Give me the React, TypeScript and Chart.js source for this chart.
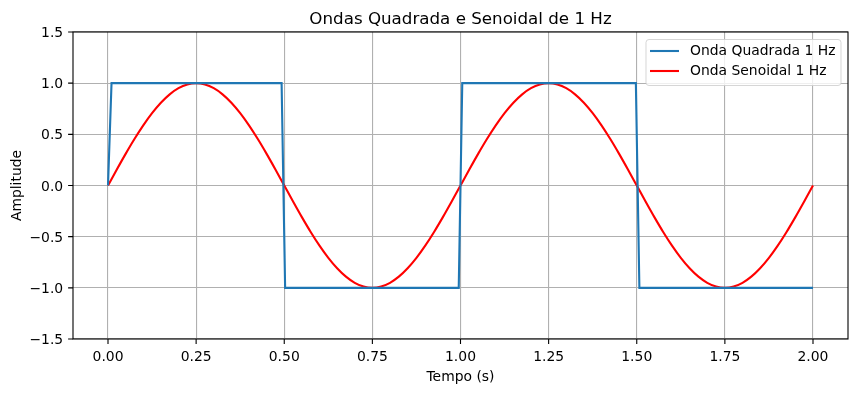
import React, { useEffect, useRef } from "react";
import { Chart, registerables } from "chart.js";

Chart.register(...registerables);

const TITLE = "Ondas Quadrada e Senoidal de 1 Hz";
const X_LABEL = "Tempo (s)";
const Y_LABEL = "Amplitude";
const SQUARE_LABEL = "Onda Quadrada 1 Hz";
const SINE_LABEL = "Onda Senoidal 1 Hz";

const xTicks = [0, 0.25, 0.5, 0.75, 1.0, 1.25, 1.5, 1.75, 2.0];
const yTicks = [-1.5, -1.0, -0.5, 0.0, 0.5, 1.0, 1.5];

const squareTime = [0, 0.01, 0.4925, 0.5025, 0.995, 1.005, 1.4975, 1.5075, 2.0];
const squareValue = [0, 1, 1, -1, -1, 1, 1, -1, -1];

const sineTime = [
  0, 0.025, 0.05, 0.075, 0.1, 0.125, 0.15, 0.175, 0.2, 0.225,
  0.25, 0.275, 0.3, 0.325, 0.35, 0.375, 0.4, 0.425, 0.45, 0.475,
  0.5, 0.525, 0.55, 0.575, 0.6, 0.625, 0.65, 0.675, 0.7, 0.725,
  0.75, 0.775, 0.8, 0.825, 0.85, 0.875, 0.9, 0.925, 0.95, 0.975,
  1.0, 1.025, 1.05, 1.075, 1.1, 1.125, 1.15, 1.175, 1.2, 1.225,
  1.25, 1.275, 1.3, 1.325, 1.35, 1.375, 1.4, 1.425, 1.45, 1.475,
  1.5, 1.525, 1.55, 1.575, 1.6, 1.625, 1.65, 1.675, 1.7, 1.725,
  1.75, 1.775, 1.8, 1.825, 1.85, 1.875, 1.9, 1.925, 1.95, 1.975,
  2.0,
];
const sineValue = [
  0, 0.1564, 0.309, 0.454, 0.5878, 0.7071, 0.809, 0.891, 0.9511, 0.9877,
  1, 0.9877, 0.9511, 0.891, 0.809, 0.7071, 0.5878, 0.454, 0.309, 0.1564,
  0, -0.1564, -0.309, -0.454, -0.5878, -0.7071, -0.809, -0.891, -0.9511, -0.9877,
  -1, -0.9877, -0.9511, -0.891, -0.809, -0.7071, -0.5878, -0.454, -0.309, -0.1564,
  0, 0.1564, 0.309, 0.454, 0.5878, 0.7071, 0.809, 0.891, 0.9511, 0.9877,
  1, 0.9877, 0.9511, 0.891, 0.809, 0.7071, 0.5878, 0.454, 0.309, 0.1564,
  0, -0.1564, -0.309, -0.454, -0.5878, -0.7071, -0.809, -0.891, -0.9511, -0.9877,
  -1, -0.9877, -0.9511, -0.891, -0.809, -0.7071, -0.5878, -0.454, -0.309, -0.1564,
  0,
];

const BLUE = "#1f77b4";
const RED = "#ff0000";
const FONT = "DejaVu Sans";

const decor = {
  id: "decor",
  afterDatasetsDraw(chart: any) {
    const ctx = chart.ctx as CanvasRenderingContext2D;
    const a = chart.chartArea;
    const xs = chart.scales.x;
    const ys = chart.scales.y;
    ctx.save();
    // frame
    ctx.strokeStyle = "#000";
    ctx.lineWidth = 1.1;
    ctx.strokeRect(a.left, a.top, a.right - a.left, a.bottom - a.top);
    // ticks
    ctx.beginPath();
    xTicks.forEach((v) => {
      const px = xs.getPixelForValue(v);
      ctx.moveTo(px, a.bottom);
      ctx.lineTo(px, a.bottom + 4.9);
    });
    yTicks.forEach((v) => {
      const py = ys.getPixelForValue(v);
      ctx.moveTo(a.left, py);
      ctx.lineTo(a.left - 4.9, py);
    });
    ctx.stroke();
    // tick labels
    ctx.fillStyle = "#000";
    ctx.font = `13.9px "${FONT}"`;
    ctx.textAlign = "center";
    ctx.textBaseline = "alphabetic";
    xTicks.forEach((v) => {
      ctx.fillText(v.toFixed(2), xs.getPixelForValue(v), a.bottom + 22);
    });
    ctx.textAlign = "right";
    yTicks.forEach((v) => {
      const s = v.toFixed(1).replace("-", "\u2212");
      ctx.fillText(s, a.left - 9.8, ys.getPixelForValue(v) + 5);
    });
    // axis labels
    ctx.textAlign = "center";
    ctx.fillText(X_LABEL, (a.left + a.right) / 2, a.bottom + 42);
    ctx.save();
    ctx.translate(21, (a.top + a.bottom) / 2);
    ctx.rotate(-Math.PI / 2);
    ctx.fillText(Y_LABEL, 0, 0);
    ctx.restore();
    // title
    ctx.font = `16.7px "${FONT}"`;
    ctx.fillText(TITLE, (a.left + a.right) / 2, a.top - 8.5);
    // legend
    const lx = 646, ly = 39.5, lw = 195, lh = 46, r = 3;
    ctx.beginPath();
    ctx.moveTo(lx + r, ly);
    ctx.arcTo(lx + lw, ly, lx + lw, ly + lh, r);
    ctx.arcTo(lx + lw, ly + lh, lx, ly + lh, r);
    ctx.arcTo(lx, ly + lh, lx, ly, r);
    ctx.arcTo(lx, ly, lx + lw, ly, r);
    ctx.closePath();
    ctx.fillStyle = "rgba(255,255,255,0.8)";
    ctx.fill();
    ctx.strokeStyle = "rgba(204,204,204,0.8)";
    ctx.lineWidth = 1;
    ctx.stroke();
    const items = [
      [SQUARE_LABEL, BLUE, 51],
      [SINE_LABEL, RED, 71],
    ] as [string, string, number][];
    ctx.font = `13.9px "${FONT}"`;
    ctx.textAlign = "left";
    ctx.textBaseline = "middle";
    items.forEach(([label, color, y]) => {
      ctx.strokeStyle = color;
      ctx.lineWidth = 2.1;
      ctx.beginPath();
      ctx.moveTo(650, y);
      ctx.lineTo(679, y);
      ctx.stroke();
      ctx.fillStyle = "#000";
      ctx.fillText(label, 690, y);
    });
    ctx.restore();
  },
};

export default function App() {
  const ref = useRef<HTMLCanvasElement | null>(null);
  useEffect(() => {
    document.body.style.margin = "0";
    const canvas = ref.current!;
    const chart = new Chart(canvas, {
      type: "line",
      data: {
        datasets: [
          {
            label: SQUARE_LABEL,
            data: squareTime.map((t, i) => ({ x: t, y: squareValue[i] })),
            borderColor: BLUE,
            borderWidth: 2.1,
            pointRadius: 0,
            tension: 0,
            fill: false,
          },
          {
            label: SINE_LABEL,
            data: sineTime.map((t, i) => ({ x: t, y: sineValue[i] })),
            borderColor: RED,
            borderWidth: 2.1,
            pointRadius: 0,
            tension: 0.4,
            cubicInterpolationMode: "monotone",
            fill: false,
          },
        ],
      },
      options: {
        responsive: false,
        animation: false,
        events: [],
        layout: { padding: { left: 73, top: 32, right: 9, bottom: 54 } },
        plugins: { legend: { display: false }, title: { display: false }, tooltip: { enabled: false } },
        scales: {
          x: {
            type: "linear",
            min: -0.0993,
            max: 2.0993,
            afterBuildTicks: (s: any) => {
              s.ticks = xTicks.map((v) => ({ value: v }));
            },
            afterFit: (s: any) => {
              s.height = 0;
            },
            ticks: { display: false },
            border: { display: false },
            grid: { color: "#b0b0b0", lineWidth: 1.1, drawTicks: false },
          },
          y: {
            type: "linear",
            min: -1.5,
            max: 1.5,
            afterBuildTicks: (s: any) => {
              s.ticks = yTicks.map((v) => ({ value: v }));
            },
            afterFit: (s: any) => {
              s.width = 0;
            },
            ticks: { display: false },
            border: { display: false },
            grid: { color: "#b0b0b0", lineWidth: 1.1, drawTicks: false },
          },
        },
      },
      plugins: [decor],
    });
    return () => chart.destroy();
  }, []);
  return (
    <div style={{ position: "absolute", left: 0, top: 0, width: 857, height: 393, background: "#fff" }}>
      <canvas ref={ref} width={857} height={393} style={{ width: 857, height: 393, display: "block" }} />
    </div>
  );
}
